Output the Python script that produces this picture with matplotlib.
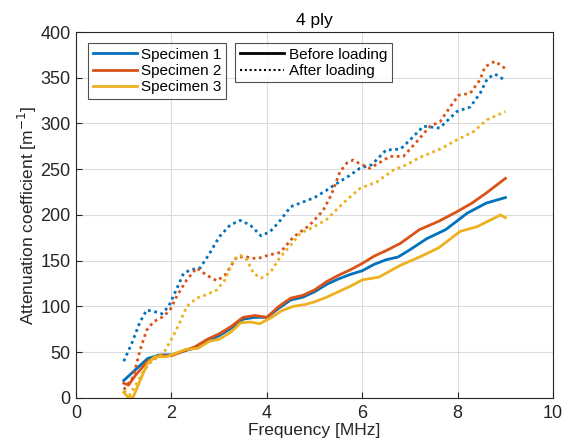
import matplotlib.pyplot as plt

# values (frequency in MHz, attenuation in 1/m)
f_s1_before = [1.0, 1.25, 1.5, 1.75, 2.0, 2.25, 2.5, 2.75, 3.0, 3.25, 3.5, 3.75, 4.0, 4.25, 4.5,
               4.75, 5.0, 5.25, 5.5, 5.75, 6.0, 6.25, 6.5, 6.75, 7.0, 7.35, 7.75, 8.2, 8.6, 9.0]
s1_before = [19, 31, 43, 47, 47, 51, 55, 62, 68, 76, 86, 88, 88, 98, 107,
             110, 116, 124, 130, 135, 139, 146, 151, 154, 162, 174, 184, 202, 213, 219]

f_s2_before = [1.0, 1.1, 1.25, 1.5, 1.75, 2.0, 2.25, 2.5, 2.75, 3.0, 3.25, 3.5, 3.75, 4.0, 4.25,
               4.5, 4.75, 5.0, 5.25, 5.5, 5.75, 6.0, 6.25, 6.5, 6.8, 7.2, 7.6, 8.0, 8.3, 8.6, 9.0]
s2_before = [16, 14, 25, 40, 46, 46, 51, 56, 64, 70, 78, 88, 90, 88, 100,
             109, 112, 118, 127, 134, 140, 147, 155, 161, 169, 184, 193, 204, 213, 224, 240]

f_s3_before = [1.0, 1.1, 1.2, 1.35, 1.5, 1.65, 1.9, 2.1, 2.3, 2.55, 2.8, 3.0, 3.25, 3.45, 3.65, 3.85,
               4.1, 4.3, 4.55, 4.8, 5.0, 5.25, 5.5, 5.75, 6.0, 6.35, 6.8, 7.2, 7.6, 8.05, 8.4, 8.9, 9.0]
s3_before = [6, 0, 1, 20, 38, 45, 45, 49, 53, 54, 62, 64, 72, 82, 83, 81,
             88, 95, 100, 102, 105, 110, 116, 122, 129, 132, 145, 154, 164, 182, 187, 200, 197]

f_s1_after = [1.0, 1.17, 1.34, 1.48, 1.66, 1.8, 1.94, 2.1, 2.25, 2.4, 2.6, 2.8, 3.0, 3.23, 3.44,
              3.65, 3.88, 4.07, 4.25, 4.5, 4.75, 5.0, 5.25, 5.45, 5.7, 5.95, 6.2, 6.5, 6.8, 7.0,
              7.28, 7.62, 7.98, 8.26, 8.47, 8.62, 8.78, 9.0]
s1_after = [40, 60, 83, 96, 94, 92, 100, 118, 136, 140, 142, 158, 176, 189, 194,
            189, 177, 182, 192, 209, 214, 219, 227, 234, 242, 251, 255, 271, 272, 282,
            297, 295, 313, 318, 333, 349, 354, 347]

f_s2_after = [1.0, 1.2, 1.34, 1.48, 1.62, 1.83, 1.97, 2.11, 2.32, 2.53, 2.74, 2.95, 3.12, 3.37,
              3.58, 3.79, 4.03, 4.28, 4.56, 4.9, 5.18, 5.35, 5.53, 5.68, 5.81, 5.95, 6.16, 6.58,
              6.86, 7.14, 7.42, 7.63, 7.84, 8.02, 8.26, 8.47, 8.57, 8.78, 9.0]
s2_after = [9, 23, 52, 74, 83, 89, 96, 111, 129, 142, 134, 128, 134, 154,
            154, 152, 156, 159, 176, 189, 205, 222, 247, 257, 260, 256, 251, 264,
            264, 280, 297, 302, 318, 331, 333, 348, 362, 368, 360]

f_s3_after = [1.0, 1.12, 1.25, 1.4, 1.55, 1.72, 1.87, 2.04, 2.18, 2.32, 2.53, 2.74, 2.95, 3.12,
              3.3, 3.44, 3.58, 3.72, 3.88, 4.07, 4.28, 4.5, 4.7, 4.95, 5.25, 5.6, 5.95, 6.3, 6.65,
              6.93, 7.21, 7.63, 7.98, 8.33, 8.61, 9.0]
s3_after = [8, 3, 14, 28, 38, 45, 52, 68, 83, 100, 109, 113, 118, 129,
            151, 156, 151, 136, 131, 137, 154, 167, 180, 186, 195, 213, 229, 236, 249,
            255, 263, 272, 282, 291, 304, 313]

colors = ['#0072BD', '#D95319', '#EDB120']
labels = ['Specimen 1', 'Specimen 2', 'Specimen 3']

plt.rcParams['font.family'] = ['Liberation Sans', 'DejaVu Sans']

fig = plt.figure(figsize=(5.72, 4.45), dpi=100)
ax = fig.add_axes([0.133, 0.106, 0.834, 0.822])

before = [(f_s1_before, s1_before), (f_s2_before, s2_before), (f_s3_before, s3_before)]
after = [(f_s1_after, s1_after), (f_s2_after, s2_after), (f_s3_after, s3_after)]

spec_handles = []
for i in range(3):
    h, = ax.plot(before[i][0], before[i][1], color=colors[i], lw=2.0, label=labels[i])
    spec_handles.append(h)
    ax.plot(after[i][0], after[i][1], color=colors[i], lw=2.0, linestyle=(0, (1, 1.3)))

ax.set_xlim(0, 10)
ax.set_ylim(0, 400)
ax.set_xticks([0, 2, 4, 6, 8, 10])
ax.set_yticks(range(0, 401, 50))
ax.grid(True, color='#dcdcdc', lw=0.8)
ax.set_axisbelow(True)
ax.tick_params(labelsize=13, colors='#262626', direction='in', length=4)
ax.tick_params(axis='x', pad=5)
ax.tick_params(axis='y', pad=4)
for s in ax.spines.values():
    s.set_color('#262626')
    s.set_linewidth(0.8)

ax.set_title('4 ply', fontsize=12.5, color='black', pad=5)
ax.set_xlabel('Frequency [MHz]', fontsize=12.5, color='#262626', labelpad=1)
ax.set_ylabel('Attenuation coefficient [m$^{-1}$]', fontsize=12.5, color='#262626', labelpad=1)

leg1 = ax.legend(handles=spec_handles, loc='upper left', bbox_to_anchor=(0.025, 0.97),
                 fontsize=11, frameon=True, fancybox=False, edgecolor='#262626',
                 handlelength=2.9, handletextpad=0.3, borderpad=0.3, labelspacing=0.15,
                 borderaxespad=0)
leg1.get_frame().set_linewidth(0.8)
ax.add_artist(leg1)

h_b, = ax.plot([], [], color='black', lw=2.0)
h_a, = ax.plot([], [], color='black', lw=1.5, linestyle=(0, (1, 1.3)))
leg2 = ax.legend([h_b, h_a], ['Before loading', 'After loading'], loc='upper left',
                 bbox_to_anchor=(0.334, 0.97), fontsize=11, frameon=True, fancybox=False,
                 edgecolor='#262626', handlelength=2.9, handletextpad=0.3, borderpad=0.3,
                 labelspacing=0.15, borderaxespad=0)
leg2.get_frame().set_linewidth(0.8)

fig.savefig('out.png', dpi=100)
